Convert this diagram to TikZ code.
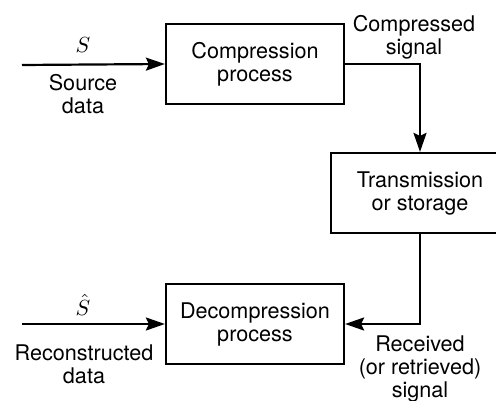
\documentclass[tikz,border=0pt]{standalone}
\usepackage{fontspec}
\setmainfont{TeX Gyre Heros}
\usetikzlibrary{arrows.meta}
\begin{document}
\begin{tikzpicture}[x=0.5pt,y=-0.5pt,
  every node/.style={font=\fontsize{10.8pt}{11.5pt}\selectfont, inner sep=0pt},
  box/.style={draw, line width=1.1pt, minimum width=89pt, minimum height=40pt, align=center},
  lbl/.style={align=center},
  flow/.style={line width=1.1pt, -{Stealth[length=9.5pt,width=6.5pt,inset=1.5pt]}}]
\useasboundingbox (0,0) rectangle (496,400);

% processing blocks
\node[box] (comp)   at (255,64)  {Compression\\process};
\node[box] (trans)  at (420,193) {Transmission\\or storage};
\node[box] (decomp) at (255,324) {Decompression\\process};

% free ends of the input and output lines
\coordinate (src) at (22,65);
\coordinate (out) at (22,324);

% labels
\node[anchor=base] (s)     at (83,53)  {$S$};
\node[lbl] (srcdata)       at (83,94)  {Source\\data};
\node[lbl] (compsig)       at (414,37) {Compressed\\signal};
\node[anchor=base] (shat)  at (83,315) {$\hat{S}$};
\node[lbl] (recdata)       at (84,364) {Reconstructed\\data};
\node[lbl] (recsig)        at (420,369) {Received\\(or retrieved)\\signal};

% connectors
\draw[flow] (src) -- (comp.west);
\draw[flow] (comp.east) -| (trans.north);
\draw[flow] (trans.south) |- (decomp.east);
\draw[flow] (out) -- (decomp.west);
\end{tikzpicture}
\end{document}
